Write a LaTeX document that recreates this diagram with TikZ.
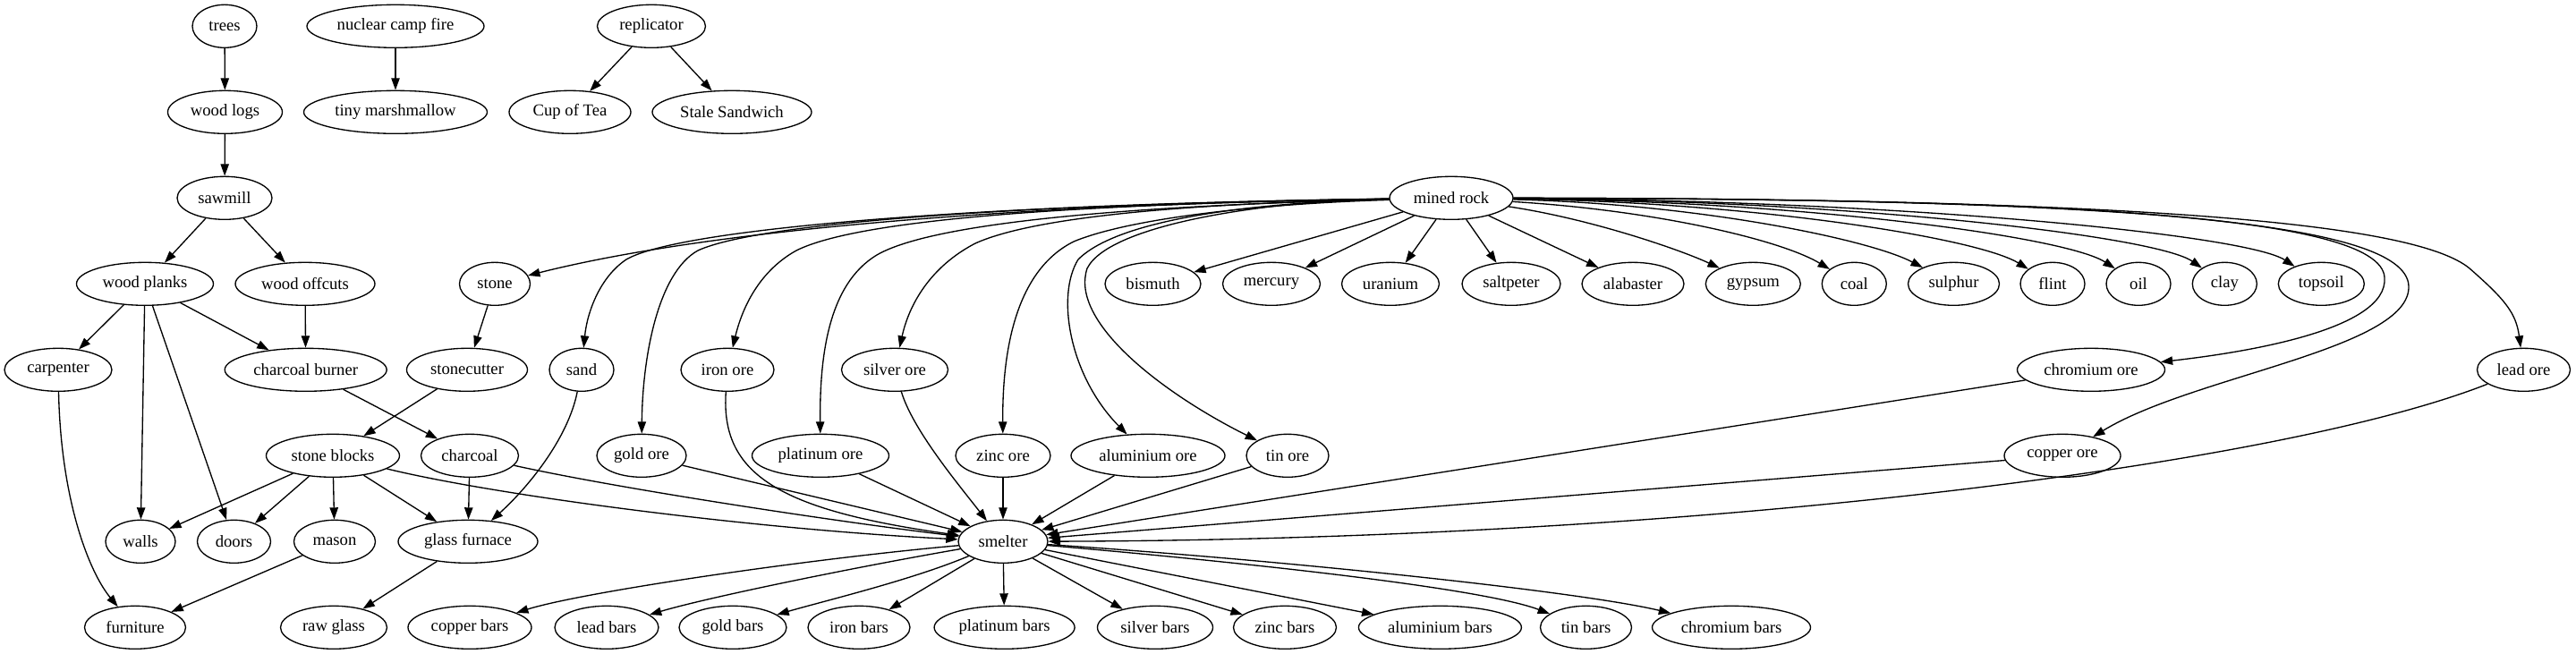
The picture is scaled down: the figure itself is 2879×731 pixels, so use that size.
\documentclass[tikz,border=0pt]{standalone}
\usepackage{fontspec}
\setmainfont{Liberation Serif}
\usetikzlibrary{arrows.meta,shapes.geometric}
\begin{document}
\begin{tikzpicture}[x=0.75pt,y=-0.75pt,
  nd/.style={draw,ellipse,line width=1pt,inner sep=0pt,minimum height=36pt,
    font=\fontsize{14pt}{16pt}\selectfont},
  wd/.style={minimum width=#1*0.75pt},
  ed/.style={line width=1pt,-{Triangle[length=10pt,width=7pt]}}]
\useasboundingbox (0,0) rectangle (2879,731);
% rank 0
\node[nd,wd=72]  (trees) at (251,29.3) {trees};
\node[nd,wd=198] (ncf)   at (442,29.3) {nuclear camp fire};
\node[nd,wd=121] (rep)   at (728,29.3) {replicator};
% rank 1
\node[nd,wd=128] (logs)  at (251.5,125.3) {wood logs};
\node[nd,wd=205] (tm)    at (442,125.3) {tiny marshmallow};
\node[nd,wd=136] (cup)   at (637,125.3) {Cup of Tea};
\node[nd,wd=178] (stale) at (818,125.3) {Stale Sandwich};
% rank 2
\node[nd,wd=106] (saw)   at (251,221.3) {sawmill};
\node[nd,wd=138] (mr)    at (1622,221.3) {mined rock};
% rank 3
\node[nd,wd=153] (planks)  at (162,317.3) {wood planks};
\node[nd,wd=156] (offcuts) at (341,317.3) {wood offcuts};
\node[nd,wd=79]  (stone)   at (553,317.3) {stone};
\node[nd,wd=107] (bis)     at (1288.5,317.3) {bismuth};
\node[nd,wd=109] (merc)    at (1421,317.3) {mercury};
\node[nd,wd=109] (uran)    at (1554,317.3) {uranium};
\node[nd,wd=110] (salt)    at (1689,317.3) {saltpeter};
\node[nd,wd=114] (alab)    at (1825,317.3) {alabaster};
\node[nd,wd=106] (gyp)     at (1959.3,317.3) {gypsum};
\node[nd,wd=72]  (coal)    at (2072.3,317.3) {coal};
\node[nd,wd=102] (sulph)   at (2183.5,317.3) {sulphur};
\node[nd,wd=72]  (flint)   at (2294,317.3) {flint};
\node[nd,wd=72]  (oil)     at (2390,317.3) {oil};
\node[nd,wd=72]  (clay)    at (2486.3,317.3) {clay};
\node[nd,wd=96]  (topsoil) at (2594.3,317.3) {topsoil};
% rank 4
\node[nd,wd=120] (carp)    at (65,413.3) {carpenter};
\node[nd,wd=181] (cburner) at (341.7,413.3) {charcoal burner};
\node[nd,wd=135] (scutter) at (522,413.3) {stonecutter};
\node[nd,wd=72]  (sand)    at (650,413.3) {sand};
\node[nd,wd=104] (ironore) at (813,413.3) {iron ore};
\node[nd,wd=119] (silvore) at (1000,413.3) {silver ore};
\node[nd,wd=165] (crore)   at (2337,413.3) {chromium ore};
\node[nd,wd=104] (leadore) at (2820.5,413.3) {lead ore};
% rank 5
\node[nd,wd=149] (sblocks) at (372,509.3) {stone blocks};
\node[nd,wd=109] (charcoal) at (525,509.3) {charcoal};
\node[nd,wd=100] (goldore) at (717,509.3) {gold ore};
\node[nd,wd=153] (platore) at (917,509.3) {platinum ore};
\node[nd,wd=106] (zincore) at (1121,509.3) {zinc ore};
\node[nd,wd=172] (alore)   at (1283,509.3) {aluminium ore};
\node[nd,wd=92]  (tinore)  at (1439,509.3) {tin ore};
\node[nd,wd=130] (cuore)   at (2305,509.3) {copper ore};
% rank 6
\node[nd,wd=78]  (walls)   at (157,605.3) {walls};
\node[nd,wd=82]  (doors)   at (261.5,605.3) {doors};
\node[nd,wd=91]  (mason)   at (374,605.3) {mason};
\node[nd,wd=156] (gfurn)   at (523,605.3) {glass furnace};
\node[nd,wd=100] (smelter) at (1121,605.3) {smelter};
% rank 7
\node[nd,wd=113] (furn)    at (151,701.3) {furniture};
\node[nd,wd=119] (rawglass) at (373,701.3) {raw glass};
\node[nd,wd=138] (cubars)  at (525,701.3) {copper bars};
\node[nd,wd=116] (pbbars)  at (678,701.3) {lead bars};
\node[nd,wd=120] (aubars)  at (819,701.3) {gold bars};
\node[nd,wd=114] (febars)  at (960,701.3) {iron bars};
\node[nd,wd=157] (ptbars)  at (1122.6,701.3) {platinum bars};
\node[nd,wd=129] (agbars)  at (1291,701.3) {silver bars};
\node[nd,wd=115] (znbars)  at (1436,701.3) {zinc bars};
\node[nd,wd=182] (albars)  at (1609.4,701.3) {aluminium bars};
\node[nd,wd=102] (snbars)  at (1772.5,701.3) {tin bars};
\node[nd,wd=177] (crbars)  at (1935,701.3) {chromium bars};

% top chains
\draw[ed] (trees) -- (logs);
\draw[ed] (ncf) -- (tm);
\draw[ed] (rep) -- (cup);
\draw[ed] (rep) -- (stale);
\draw[ed] (logs) -- (saw);
\draw[ed] (saw) -- (planks);
\draw[ed] (saw) -- (offcuts);
\draw[ed] (planks) -- (carp);
\draw[ed] (planks) -- (cburner);
\draw[ed] (planks) -- (walls);
\draw[ed] (planks) -- (doors);
\draw[ed] (offcuts) -- (cburner);
\draw[ed] (carp) .. controls (68,560) and (100,640) .. (furn);
\draw[ed] (cburner) -- (charcoal);
\draw[ed] (stone) -- (scutter);
\draw[ed] (scutter) -- (sblocks);
\draw[ed] (sand) .. controls (635,490) and (590,545) .. (gfurn);
\draw[ed] (sblocks) -- (walls);
\draw[ed] (sblocks) -- (doors);
\draw[ed] (sblocks) -- (mason);
\draw[ed] (sblocks) -- (gfurn);
\draw[ed] (charcoal) -- (gfurn);
\draw[ed] (mason) -- (furn);
\draw[ed] (gfurn) -- (rawglass);

% mined rock, left
\draw[ed] (mr) .. controls (1150,228) and (800,255) .. (stone);
\draw[ed] (mr) .. controls (1100,228) and (760,255) .. (700,290) .. controls (670,310) and (656,350) .. (sand);
\draw[ed] (mr) .. controls (1150,228) and (850,248) .. (780,280) .. controls (735,305) and (718,400) .. (goldore);
\draw[ed] (mr) .. controls (1200,228) and (960,245) .. (890,280) .. controls (845,305) and (828,350) .. (ironore);
\draw[ed] (mr) .. controls (1250,230) and (1040,250) .. (980,285) .. controls (925,318) and (916,400) .. (platore);
\draw[ed] (mr) .. controls (1300,228) and (1150,245) .. (1090,272) .. controls (1040,298) and (1016,340) .. (silvore);
\draw[ed] (mr) .. controls (1400,228) and (1260,245) .. (1200,270) .. controls (1140,300) and (1120,380) .. (zincore);
\draw[ed] (mr) .. controls (1400,226) and (1250,245) .. (1205,290) .. controls (1180,330) and (1195,420) .. (alore);
\draw[ed] (mr) .. controls (1420,224) and (1240,250) .. (1215,300) .. controls (1195,360) and (1300,440) .. (tinore);
% mined rock, straight
\draw[ed] (mr) -- (bis);
\draw[ed] (mr) -- (merc);
\draw[ed] (mr) -- (uran);
\draw[ed] (mr) -- (salt);
\draw[ed] (mr) -- (alab);
% mined rock, right
\draw[ed] (mr) .. controls (1780,245) and (1880,280) .. (gyp);
\draw[ed] (mr) .. controls (1850,235) and (1990,268) .. (coal);
\draw[ed] (mr) .. controls (1900,228) and (2090,268) .. (sulph);
\draw[ed] (mr) .. controls (1960,226) and (2210,266) .. (flint);
\draw[ed] (mr) .. controls (2020,225) and (2310,265) .. (oil);
\draw[ed] (mr) .. controls (2070,224) and (2410,264) .. (clay);
\draw[ed] (mr) .. controls (2120,224) and (2510,262) .. (topsoil);
\draw[ed] (mr) .. controls (2300,222) and (2660,240) .. (2665,310) .. controls (2670,370) and (2500,395) .. (crore);
\draw[ed] (mr) .. controls (2350,222) and (2690,245) .. (2692,320) .. controls (2694,390) and (2450,420) .. (cuore);
\draw[ed] (mr) .. controls (2400,222) and (2700,250) .. (2760,300) .. controls (2800,335) and (2812,350) .. (leadore);

% into smelter
\draw[ed] (sblocks) .. controls (560,555) and (850,592) .. (smelter);
\draw[ed] (charcoal) .. controls (700,548) and (950,585) .. (smelter);
\draw[ed] (goldore) -- (smelter);
\draw[ed] (ironore) .. controls (805,530) and (870,570) .. (smelter);
\draw[ed] (platore) -- (smelter);
\draw[ed] (silvore) .. controls (1020,480) and (1070,540) .. (smelter);
\draw[ed] (zincore) -- (smelter);
\draw[ed] (alore) -- (smelter);
\draw[ed] (tinore) -- (smelter);
\draw[ed] (crore) -- (smelter);
\draw[ed] (cuore) -- (smelter);
\draw[ed] (leadore) .. controls (2550,520) and (1900,603) .. (smelter);

% out of smelter
\draw[ed] (smelter) .. controls (900,625) and (650,662) .. (cubars);
\draw[ed] (smelter) .. controls (950,635) and (790,668) .. (pbbars);
\draw[ed] (smelter) .. controls (1020,648) and (920,672) .. (aubars);
\draw[ed] (smelter) -- (febars);
\draw[ed] (smelter) -- (ptbars);
\draw[ed] (smelter) -- (agbars);
\draw[ed] (smelter) -- (znbars);
\draw[ed] (smelter) -- (albars);
\draw[ed] (smelter) .. controls (1350,625) and (1650,655) .. (snbars);
\draw[ed] (smelter) .. controls (1420,625) and (1760,660) .. (crbars);
\end{tikzpicture}
\end{document}
